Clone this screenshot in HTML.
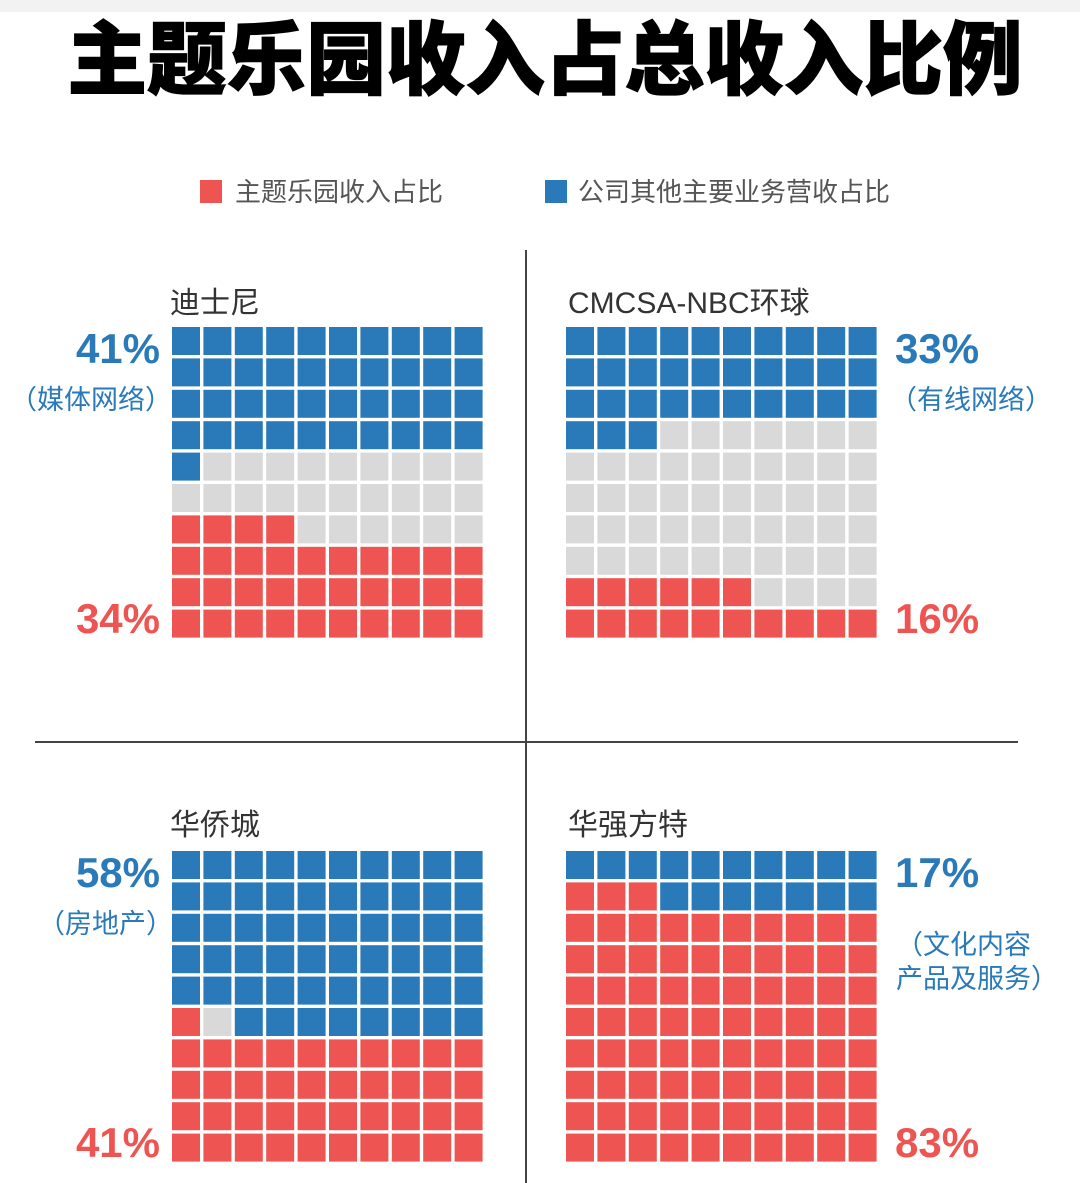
<!DOCTYPE html>
<html><head><meta charset="utf-8"><style>
html,body{margin:0;padding:0;background:#fff;}
svg{display:block;}
text{font-family:"Liberation Sans","Noto Sans CJK SC",sans-serif;}
</style></head><body>
<svg id="chart" width="1080" height="1183" viewBox="0 0 1080 1183" xmlns="http://www.w3.org/2000/svg">
<rect x="0" y="0" width="1080" height="12" fill="#f2f2f2"/>
<text x="545" y="88" text-anchor="middle" font-size="80" font-weight="900" fill="#000" stroke="#000" stroke-width="1.2" textLength="955" lengthAdjust="spacingAndGlyphs">主题乐园收入占总收入比例</text>
<g>
<rect x="200" y="180" width="22" height="23" fill="#ee5552"/>
<text x="235" y="201" font-size="26" fill="#555">主题乐园收入占比</text>
<rect x="545" y="180" width="22" height="23" fill="#2a7ab9"/>
<text x="578" y="201" font-size="26" fill="#555">公司其他主要业务营收占比</text>
</g>
<line x1="526" y1="250" x2="526" y2="1183" stroke="#444" stroke-width="2"/>
<line x1="35" y1="742" x2="1018" y2="742" stroke="#444" stroke-width="2"/>
<g id="grids"></g>
</svg>
<script>
const companies=["迪士尼","CMCSA-NBC环球","华侨城","华强方特"];
const otherPct=[41,33,58,17];
const parkPct=[34,16,41,83];
const otherNotes=["（媒体网络）","（有线网络）","（房地产）","（文化内容|产品及服务）"];
const ns="http://www.w3.org/2000/svg";
const BLUE="#2a7ab9",RED="#ee5552",GRAY="#d9d9d9";
const layout=[
 {gx:172,gy:327,side:"left",tx:170,ty:313},
 {gx:566,gy:327,side:"right",tx:568,ty:313},
 {gx:172,gy:851,side:"left",tx:170,ty:835},
 {gx:566,gy:851,side:"right",tx:568,ty:835}
];
const pitch=31.4,cell=28;
const root=document.getElementById('grids');
function mk(tag,attrs){const e=document.createElementNS(ns,tag);for(const k in attrs)e.setAttribute(k,attrs[k]);return e;}
companies.forEach((name,i)=>{
 const L=layout[i];
 const g=mk('g',{});
 
 
 root.appendChild(g);
 const t=mk('text',{x:L.tx,y:L.ty,'font-size':30,fill:'#333'});
 
 
 t.textContent=name;g.appendChild(t);
 const colors=[];
 for(let k=0;k<100;k++)colors.push(GRAY);
 const b=otherPct[i],r=parkPct[i];
 if(i===3){
  const bf=Math.floor(b/10),bp=b-bf*10;
  for(let k=0;k<bf*10;k++)colors[k]=BLUE;
  for(let k=0;k<bp;k++)colors[bf*10+9-k]=BLUE;
  let left=r;
  for(let k=99;k>=0&&left>0;k--){
   if(colors[k]===GRAY){colors[k]=RED;left--;}
  }
 } else if(i===2){
  const bf=Math.floor(b/10),bp=b-bf*10;
  for(let k=0;k<bf*10;k++)colors[k]=BLUE;
  for(let k=0;k<bp;k++)colors[bf*10+9-k]=BLUE;
  const full=Math.floor(r/10),part=r-full*10;
  for(let k=0;k<full*10;k++)colors[99-k]=RED;
  for(let k=0;k<part;k++)colors[(9-full)*10+k]=RED;
 } else {
  for(let k=0;k<b;k++)colors[k]=BLUE;
  const full=Math.floor(r/10),part=r-full*10;
  for(let k=0;k<full*10;k++)colors[99-k]=RED;
  for(let k=0;k<part;k++)colors[(9-full)*10+k]=RED;
 }
 colors.forEach((c,k)=>{
  const row=Math.floor(k/10),col=k%10;
  const rc=mk('rect',{x:(L.gx+col*pitch).toFixed(1),y:(L.gy+row*pitch).toFixed(1),width:cell,height:cell,fill:c});
  
  
  g.appendChild(rc);
 });
 const left=L.side==="left";
 const px=left?160:895, anchor=left?"end":"start";
 const pb=mk('text',{x:px,y:L.gy+36,'font-size':42,'font-weight':'bold',fill:BLUE,'text-anchor':anchor});
 
 
 pb.textContent=b+"%";g.appendChild(pb);
 const lines=otherNotes[i].split('|');
 lines.forEach((ln,j)=>{
  const nx=left?(i===0?10:38):(i===3?896:890);
  const ny=L.gy+(i===3?103:82)+j*34;
  const n=mk('text',{x:nx,y:ny,'font-size':27,fill:BLUE});
  
  
  n.textContent=ln;g.appendChild(n);
 });
 const pr=mk('text',{x:px,y:L.gy+306,'font-size':42,'font-weight':'bold',fill:RED,'text-anchor':anchor});
 
 
 pr.textContent=r+"%";g.appendChild(pr);
});
</script>
</body></html>
